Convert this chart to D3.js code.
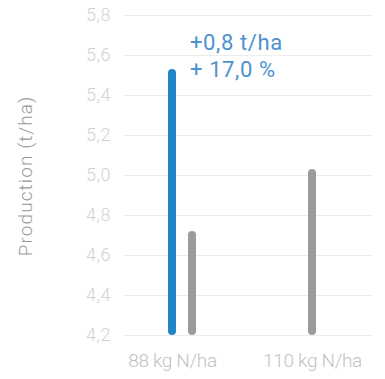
<!DOCTYPE html>
<html>
<head>
<meta charset="utf-8">
<script src="https://cdn.jsdelivr.net/npm/d3@7"></script>
<style>
  body { margin: 0; background: #fff; }
  svg text { font-family: Roboto, "Noto Sans", sans-serif; }
</style>
</head>
<body>
<div id="chart"></div>
<script>
// Data
var categories = ["88 kg N/ha", "110 kg N/ha"];
var blueValues = [5.53, null];
var grayValues = [4.72, 5.03];
var yTicks = [4.2, 4.4, 4.6, 4.8, 5.0, 5.2, 5.4, 5.6, 5.8];
var noteLines = ["+0,8 t/ha", "+ 17,0 %"];

var width = 385, height = 379;

var svg = d3.select("#chart").append("svg")
    .attr("width", width)
    .attr("height", height);

// Scales
var yScale = d3.scaleLinear().domain([4.2, 5.8]).range([335, 15]);
var xScale = d3.scalePoint().domain(categories).range([172, 312]);

var fmt = function(d) { return d3.format(".1f")(d).replace(".", ","); };

// Gridlines + tick labels
var yAxis = d3.axisLeft(yScale)
    .tickValues(yTicks)
    .tickFormat(fmt)
    .tickSize(-249)
    .tickPadding(12);

var gy = svg.append("g")
    .attr("transform", "translate(123,0)")
    .call(yAxis);
gy.select(".domain").remove();
gy.selectAll(".tick line").attr("stroke", "#ededed").attr("stroke-width", 1);
gy.selectAll(".tick text")
    .attr("fill", "#d2d2d2")
    .attr("font-size", 18)
    .attr("letter-spacing", 0.5)
    .style("font-weight", 300);

// Category labels
var xAxis = d3.axisBottom(xScale).tickSize(0).tickPadding(0);
var gx = svg.append("g")
    .attr("transform", "translate(0,353)")
    .call(xAxis);
gx.select(".domain").remove();
gx.selectAll(".tick text")
    .attr("fill", "#c2c2c2")
    .attr("font-size", 19)
    .attr("letter-spacing", -0.3)
    .attr("dy", "0.71em")
    .style("font-weight", 300);

// Bars (thin rounded columns)
var barW = 8;
function drawBar(cat, v, offset, color) {
    svg.append("rect")
        .attr("x", xScale(cat) + offset - barW / 2)
        .attr("y", yScale(v))
        .attr("width", barW)
        .attr("height", yScale(4.2) - yScale(v))
        .attr("rx", barW / 2)
        .attr("fill", color);
}
categories.forEach(function(c, i) {
    if (blueValues[i] != null) drawBar(c, blueValues[i], 0, "#1f86c8");
    drawBar(c, grayValues[i], blueValues[i] != null ? 20 : 0, "#9c9ba0");
});

// Annotation
var note = svg.append("text")
    .attr("x", 190)
    .attr("y", 50)
    .attr("fill", "#4d92d0")
    .attr("font-size", 22)
    .attr("letter-spacing", 0.6);
noteLines.forEach(function(t, i) {
    note.append("tspan")
        .attr("x", 190)
        .attr("dy", i === 0 ? 0 : 27)
        .text(t);
});

// Y axis title
svg.append("text")
    .attr("transform", "translate(32,176)rotate(-90)")
    .attr("text-anchor", "middle")
    .attr("fill", "#9a9a9a")
    .attr("font-size", 19)
    .attr("letter-spacing", 1.1)
    .style("font-weight", 300)
    .text("Production (t/ha)");
</script>
</body>
</html>
